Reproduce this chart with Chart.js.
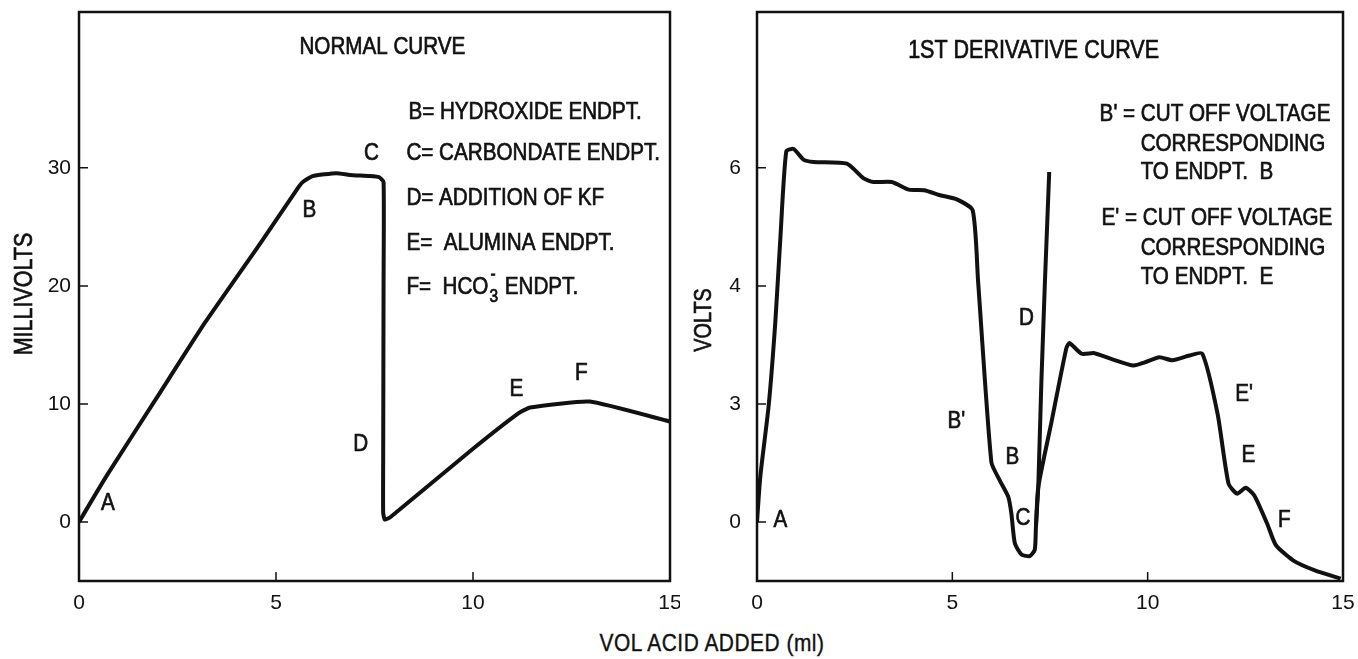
<!DOCTYPE html>
<html>
<head>
<meta charset="utf-8">
<script src="https://cdn.jsdelivr.net/npm/chart.js@4.4.0/dist/chart.umd.min.js"></script>
<style>
  body { margin: 0; background: #fff; width: 1358px; height: 659px; overflow: hidden; position: relative; }
  #wrapL { position: absolute; left: 0; top: 0; width: 680px; height: 620px; }
  #wrapR { position: absolute; left: 680px; top: 0; width: 678px; height: 620px; }
  #xtitle { position: absolute; left: 562px; top: 629px; width: 300px; text-align: center;
            font: 24px 'Liberation Sans', sans-serif; letter-spacing: 0.6px; color: #111;
            transform: scaleX(0.87); -webkit-text-stroke: 0.4px #111; }
</style>
</head>
<body>
<div id="wrapL"><canvas id="left"></canvas></div>
<div id="wrapR"><canvas id="right"></canvas></div>
<div id="xtitle">VOL ACID ADDED (ml)</div>
<script>
// ---- data ----
const xTicks = [0, 5, 10, 15];

// normal curve (millivolts vs ml)
const normalX = [0, 0.7, 1.95, 3.2, 4.58, 5.58, 5.68, 5.93, 6.53, 6.87, 7.37, 7.62, 7.73, 7.73, 7.72, 7.72, 7.76, 7.9, 10.0, 11.15, 11.45, 12.96, 15];
const normalY = [0, 3.9, 10.4, 16.9, 23.5, 28.4, 28.8, 29.3, 29.55, 29.4, 29.3, 29.2, 28.8, 20, 5, 0.8, 0.2, 0.4, 6.2, 9.2, 9.7, 10.2, 8.5];
const leftTicks = [0, 10, 20, 30];

// 1st derivative curve (volts vs ml)
const derivX = [0, 0.085, 0.3, 0.47, 0.6, 0.75, 0.94, 1.19, 1.45, 2.3, 2.73, 2.98, 3.45, 3.89, 4.28, 4.66, 5.1, 5.52,
                5.66, 6.0, 6.21, 6.43, 6.51, 6.6, 6.77, 6.98, 7.11, 7.14, 7.2, 7.54, 7.92, 8.0, 8.31, 8.64, 9.08,
                9.64, 9.91, 10.3, 10.63, 11.07, 11.4, 11.79, 12.07, 12.29, 12.51, 12.73, 13.06, 13.28, 13.72, 14.28, 14.94];
const derivY = [0, 0.77, 1.98, 3.4, 4.83, 6.28, 6.32, 6.14, 6.1, 6.07, 5.82, 5.76, 5.76, 5.63, 5.62, 5.54, 5.47, 5.28,
                4.07, 1.01, 0.71, 0.43, 0.15, -0.36, -0.55, -0.58, -0.47, -0.08, 0.59, 1.7, 2.95, 3.03, 2.85, 2.86, 2.76,
                2.65, 2.70, 2.79, 2.74, 2.82, 2.85, 1.83, 0.65, 0.48, 0.58, 0.45, -0.03, -0.39, -0.65, -0.82, -0.96];
// KF addition spike (D)
const spikeX = [7.14, 7.2, 7.28, 7.37, 7.48];
const spikeY = [-0.08, 0.59, 2.39, 4.07, 5.93];
const rightTicks = [0, 2, 4, 6];
const rightTickLabels = ['0', '3', '4', '6'];

const FONT = "'Liberation Sans', sans-serif";
const INK = '#111';

function pts(xs, ys) {
    return xs.map((x, i) => ({ x: x, y: ys[i] }));
}

// narrow, slightly heavy text like the typed original
function typed(ctx, txt, x, y, size, align) {
    ctx.save();
    ctx.translate(x, y);
    ctx.scale(0.86, 1);
    ctx.font = size + 'px ' + FONT;
    ctx.textAlign = align || 'left';
    ctx.textBaseline = 'middle';
    ctx.lineWidth = 0.7;
    ctx.strokeStyle = INK;
    ctx.fillText(txt, 0, 0);
    ctx.strokeText(txt, 0, 0);
    let w = ctx.measureText(txt).width * 0.86;
    ctx.restore();
    return w;
}

// frame, inward tick marks, annotations
function framePlugin(notes, yTitle) {
    return {
        id: 'frame',
        afterDraw(chart) {
            const ctx = chart.ctx;
            const a = chart.chartArea;
            const sx = chart.scales.x, sy = chart.scales.y;
            ctx.save();
            ctx.strokeStyle = INK;
            ctx.lineWidth = 2.5;
            ctx.strokeRect(a.left, a.top, a.right - a.left, a.bottom - a.top);
            ctx.lineWidth = 1.5;
            ctx.beginPath();
            for (const t of sy.ticks) {
                let py = sy.getPixelForValue(t.value);
                ctx.moveTo(a.left, py);
                ctx.lineTo(a.left + 9, py);
            }
            for (const t of sx.ticks) {
                let px = sx.getPixelForValue(t.value);
                ctx.moveTo(px, a.bottom);
                ctx.lineTo(px, a.bottom - 9);
            }
            ctx.stroke();

            ctx.fillStyle = INK;
            for (const n of notes) {
                let size = n.size || 24;
                let px = sx.getPixelForValue(n.x), py = sy.getPixelForValue(n.y);
                let w = typed(ctx, n.text, px, py, size, n.align);
                if (n.sub) {
                    // F= HCO3- ENDPT.
                    let w2 = typed(ctx, n.sub, px + w + 1, py + 10, 18);
                    typed(ctx, '-', px + w + 2, py - 12, 18);
                    typed(ctx, n.rest, px + w + w2 + 2, py, size);
                }
            }
            // rotated y title
            ctx.translate(yTitle.x, yTitle.y);
            ctx.rotate(-Math.PI / 2);
            typed(ctx, yTitle.text, 0, 0, yTitle.size, 'center');
            ctx.restore();
        }
    };
}

function makeChart(id, datasets, yMin, yMax, yTickVals, yLabel, padRight, yWidth, yPad, notes, yTitle) {
    return new Chart(document.getElementById(id), {
        type: 'scatter',
        data: { datasets: datasets },
        options: {
            responsive: true,
            maintainAspectRatio: false,
            animation: false,
            layout: { padding: { top: 12, right: padRight, left: 0, bottom: 0 } },
            plugins: { legend: { display: false }, tooltip: { enabled: false } },
            elements: { point: { radius: 0 } },
            scales: {
                x: {
                    type: 'linear', min: 0, max: 15,
                    grid: { display: false, drawTicks: false },
                    border: { display: false },
                    afterBuildTicks: s => { s.ticks = xTicks.map(v => ({ value: v })); },
                    afterFit: s => { s.height = 39; s.paddingLeft = 0; s.paddingRight = 0; },
                    ticks: { color: INK, font: { family: FONT, size: 21 }, padding: 10, maxRotation: 0 }
                },
                y: {
                    type: 'linear', min: yMin, max: yMax,
                    grid: { display: false, drawTicks: false },
                    border: { display: false },
                    afterBuildTicks: s => { s.ticks = yTickVals.map(v => ({ value: v })); },
                    afterFit: s => { s.width = yWidth; s.paddingTop = 0; s.paddingBottom = 0; },
                    ticks: { color: INK, font: { family: FONT, size: 21 }, padding: yPad, callback: yLabel }
                }
            }
        },
        plugins: [framePlugin(notes, yTitle)]
    });
}

const lineStyle = { showLine: true, borderColor: INK, borderWidth: 4, pointRadius: 0, fill: false };

makeChart('left',
    [Object.assign({ data: pts(normalX, normalY), tension: 0.15 }, lineStyle)],
    -5, 43.2, leftTicks, v => String(v), 10, 79, 8,
    [
        { text: 'NORMAL CURVE', x: 7.7, y: 40.2, align: 'center', size: 24 },
        { text: 'B= HYDROXIDE ENDPT.', x: 8.36, y: 34.7 },
        { text: 'C= CARBONDATE ENDPT.', x: 8.31, y: 31.2 },
        { text: 'D= ADDITION OF KF', x: 8.31, y: 27.4 },
        { text: 'E=  ALUMINA ENDPT.', x: 8.31, y: 23.6 },
        { text: 'F=  HCO', sub: '3', rest: ' ENDPT.', x: 8.31, y: 19.9 },
        { text: 'A', x: 0.73, y: 1.6, align: 'center' },
        { text: 'B', x: 5.85, y: 26.4, align: 'center' },
        { text: 'C', x: 7.42, y: 31.2, align: 'center' },
        { text: 'D', x: 7.15, y: 6.6, align: 'center' },
        { text: 'E', x: 11.1, y: 11.2, align: 'center' },
        { text: 'F', x: 12.75, y: 12.6, align: 'center' }
    ],
    { text: 'MILLIVOLTS', x: 25, y: 294, size: 25 });

makeChart('right',
    [Object.assign({ data: pts(derivX, derivY), tension: 0.2 }, lineStyle),
     Object.assign({ data: pts(spikeX, spikeY), tension: 0 }, lineStyle)],
    -1, 8.64, rightTicks, v => rightTickLabels[rightTicks.indexOf(v)], 15, 77, 16,
    [
        { text: '1ST DERIVATIVE CURVE', x: 7.08, y: 7.97, align: 'center', size: 25 },
        { text: "B' = CUT OFF VOLTAGE", x: 8.77, y: 6.91 },
        { text: 'CORRESPONDING', x: 9.82, y: 6.4 },
        { text: 'TO ENDPT.  B', x: 9.82, y: 5.92 },
        { text: "E' = CUT OFF VOLTAGE", x: 8.82, y: 5.14 },
        { text: 'CORRESPONDING', x: 9.82, y: 4.63 },
        { text: 'TO ENDPT.  E', x: 9.82, y: 4.15 },
        { text: 'A', x: 0.6, y: 0.03, align: 'center' },
        { text: "B'", x: 5.1, y: 1.71, align: 'center' },
        { text: 'B', x: 6.54, y: 1.1, align: 'center' },
        { text: 'C', x: 6.81, y: 0.06, align: 'center' },
        { text: 'D', x: 6.9, y: 3.45, align: 'center' },
        { text: "E'", x: 12.47, y: 2.17, align: 'center' },
        { text: 'E', x: 12.58, y: 1.13, align: 'center' },
        { text: 'F', x: 13.5, y: 0.03, align: 'center' }
    ],
    { text: 'VOLTS', x: 25, y: 320, size: 23 });
</script>
</body>
</html>
